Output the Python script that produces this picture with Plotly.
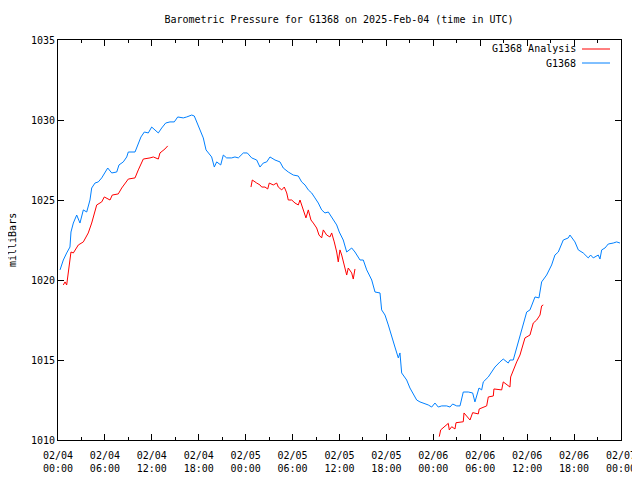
import pandas as pd
import plotly.graph_objects as go

START = pd.Timestamp("2025-02-04 00:00")

# G1368 observations: hours since 2025-02-04 00:00 UTC, pressure (mbar)
obs_hours = [0.26, 0.68, 1.11, 1.53, 1.66, 1.96, 2.39, 2.81, 3.24, 3.67, 4.09, 4.31, 4.73, 5.15, 5.59,
             6.01, 6.36, 6.87, 7.51, 7.80, 8.35, 8.79, 8.99, 9.85, 10.27, 10.61, 11.04, 11.55, 11.98,
             12.40, 12.83, 13.26, 13.77, 14.32, 14.87, 15.31, 16.02, 16.46, 17.10, 17.43, 17.74, 18.16,
             18.58, 18.93, 19.22, 19.65, 19.99, 20.29, 20.81, 21.14, 21.57, 22.21, 22.63, 23.06, 23.70,
             24.21, 24.77, 25.41, 25.83, 26.25, 26.69, 27.11, 27.75, 28.39, 28.81, 29.45, 30.09, 30.73,
             31.16, 31.59, 32.01, 32.44, 32.86, 33.29, 33.72, 34.14, 34.57, 35.00, 35.64, 35.97, 36.48,
             36.92, 37.56, 37.98, 38.62, 39.04, 39.48, 39.81, 40.12, 40.54, 41.18, 41.39, 41.82, 42.24,
             42.67, 43.09, 43.52, 43.73, 43.95, 44.59, 45.01, 45.65, 45.87, 46.29, 46.71, 47.35, 47.79,
             48.21, 48.63, 49.07, 49.71, 50.13, 50.47, 50.99, 51.41, 51.83, 52.47, 53.03, 53.32, 53.84,
             54.18, 54.39, 55.03, 55.46, 55.88, 56.52, 56.94, 57.58, 57.80, 58.22, 58.66, 59.08, 59.50,
             59.94, 60.36, 60.78, 61.00, 61.51, 61.85, 62.49, 63.13, 63.55, 63.98, 64.62, 65.26, 65.47,
             66.11, 66.54, 67.17, 67.81, 68.12, 68.45, 69.09, 69.31, 69.53, 69.95, 70.37, 71.01, 71.44,
             71.87]
obs_mbar = [1020.63, 1021.25, 1021.69, 1022.06, 1023.00, 1023.56, 1024.06, 1023.56, 1024.38, 1024.25,
            1025.00, 1025.75, 1026.06, 1026.13, 1026.38, 1026.69, 1027.00, 1026.69, 1026.75, 1027.19,
            1027.38, 1027.69, 1028.00, 1028.00, 1028.56, 1028.94, 1029.25, 1029.19, 1029.56, 1029.38,
            1029.19, 1029.50, 1029.81, 1029.88, 1029.88, 1030.19, 1030.13, 1030.19, 1030.31, 1030.25,
            1029.88, 1029.38, 1028.88, 1028.13, 1027.94, 1027.69, 1027.06, 1027.38, 1027.19, 1027.81,
            1027.63, 1027.63, 1027.69, 1027.63, 1027.94, 1027.94, 1027.63, 1027.50, 1027.06, 1027.31,
            1027.38, 1027.69, 1027.50, 1027.38, 1027.00, 1026.75, 1026.56, 1026.50, 1026.13, 1025.94,
            1025.63, 1025.44, 1025.13, 1024.81, 1024.38, 1024.19, 1024.25, 1023.94, 1023.44, 1023.00,
            1022.50, 1021.75, 1022.00, 1021.75, 1021.25, 1021.25, 1020.63, 1020.31, 1020.00, 1019.25,
            1019.19, 1018.13, 1017.81, 1017.19, 1016.56, 1015.81, 1015.13, 1015.44, 1014.19, 1013.75,
            1013.25, 1012.69, 1012.50, 1012.38, 1012.31, 1012.19, 1012.06, 1012.31, 1012.06, 1012.13,
            1012.13, 1012.06, 1012.25, 1012.13, 1012.13, 1013.00, 1013.00, 1012.94, 1012.38, 1013.25,
            1013.13, 1013.63, 1013.94, 1014.25, 1014.56, 1014.88, 1015.06, 1014.81, 1015.00, 1015.00,
            1015.81, 1016.56, 1017.19, 1018.00, 1018.13, 1018.63, 1018.94, 1018.88, 1019.88, 1020.31,
            1020.94, 1021.56, 1021.75, 1022.50, 1022.63, 1022.81, 1022.38, 1021.88, 1021.69, 1021.38,
            1021.56, 1021.38, 1021.56, 1021.31, 1021.88, 1022.00, 1022.25, 1022.31, 1022.38, 1022.31]

# G1368 Analysis: three separate segments (None = gap)
ana_hours = [0.68, 0.90, 1.11, 1.32, 1.66, 1.96, 2.60, 3.24, 3.87, 4.31, 4.73, 4.95, 5.59, 5.92, 6.65,
             6.94, 7.71, 8.15, 8.99, 9.85, 10.27, 10.91, 11.77, 12.19, 12.83, 13.04, 13.68, 14.03,
             None,
             24.68, 24.85, 25.41, 25.83, 26.05, 26.47, 26.82, 27.02, 27.53, 27.97, 28.17, 28.61, 28.94,
             29.25, 29.45, 29.89, 30.31, 30.73, 30.95, 31.37, 31.71, 32.01, 32.35, 32.65, 33.08, 33.38,
             33.72, 33.93, 34.36, 34.78, 35.00, 35.33, 35.64, 35.84, 36.06, 36.28, 36.61, 36.92, 37.12,
             37.56, 37.76, 37.98,
             None,
             48.76, 48.94, 49.91, 50.04, 50.35, 50.77, 50.90, 51.83, 51.92, 52.69, 53.03, 53.75, 53.87,
             54.82, 55.03, 55.67, 55.75, 56.74, 56.94, 57.80, 57.89, 58.22, 58.66, 59.08, 59.72, 60.36,
             60.78, 61.22, 61.64, 61.85, 62.06]
ana_mbar = [1019.69, 1019.88, 1019.69, 1020.63, 1021.75, 1021.69, 1022.19, 1022.38, 1022.94, 1023.56,
            1024.25, 1024.69, 1024.88, 1025.19, 1025.00, 1025.31, 1025.38, 1025.75, 1026.31, 1026.38,
            1026.88, 1027.56, 1027.63, 1027.69, 1027.56, 1027.94, 1028.19, 1028.38,
            None,
            1025.81, 1026.25, 1026.06, 1025.94, 1025.81, 1025.81, 1025.69, 1026.06, 1025.94, 1026.06,
            1025.81, 1025.63, 1025.81, 1025.44, 1025.00, 1025.00, 1024.81, 1024.69, 1025.00, 1024.38,
            1023.88, 1024.38, 1023.75, 1023.56, 1023.25, 1022.81, 1022.63, 1023.13, 1022.81, 1022.69,
            1022.94, 1022.38, 1021.75, 1021.13, 1021.88, 1021.56, 1020.81, 1020.31, 1020.75, 1020.44,
            1020.06, 1020.69,
            None,
            1010.21, 1010.63, 1011.04, 1010.63, 1010.83, 1010.69, 1011.08, 1011.14, 1011.69, 1011.25,
            1011.71, 1011.63, 1011.94, 1012.13, 1012.69, 1012.75, 1013.19, 1013.13, 1013.63, 1013.31,
            1013.94, 1014.38, 1014.88, 1015.31, 1016.38, 1016.56, 1017.31, 1017.50, 1017.81, 1018.38,
            1018.44]

tick_hours = [0, 6, 12, 18, 24, 30, 36, 42, 48, 54, 60, 66, 72]
tick_labels = ["02/04<br>00:00", "02/04<br>06:00", "02/04<br>12:00", "02/04<br>18:00",
               "02/05<br>00:00", "02/05<br>06:00", "02/05<br>12:00", "02/05<br>18:00",
               "02/06<br>00:00", "02/06<br>06:00", "02/06<br>12:00", "02/06<br>18:00",
               "02/07<br>00:00"]
y_ticks = [1010, 1015, 1020, 1025, 1030, 1035]

RED = "#ff0000"
BLUE = "#0080ff"
FONT = "DejaVu Sans Mono"

# the page body has an 8px margin: the figure is offset by 8px, so it is drawn 8px smaller
W, H = 632, 472


def to_time(hours):
    return [None if h is None else START + pd.Timedelta(hours=h) for h in hours]


fig = go.Figure()
fig.add_trace(go.Scatter(x=to_time(ana_hours), y=ana_mbar, mode="lines", name="G1368 Analysis",
                         line=dict(color=RED, width=1), connectgaps=False, showlegend=False))
fig.add_trace(go.Scatter(x=to_time(obs_hours), y=obs_mbar, mode="lines", name="G1368",
                         line=dict(color=BLUE, width=1), showlegend=False))

fig.update_layout(
    width=W, height=H,
    margin=dict(l=50, r=19, t=32, b=40, autoexpand=False),
    paper_bgcolor="white", plot_bgcolor="white",
    font=dict(family=FONT, size=10, color="black"),
    title=dict(text="Barometric Pressure for G1368 on 2025-Feb-04 (time in UTC)",
               x=331 / W, xref="container", y=1 - 11 / H, yref="container",
               xanchor="center", yanchor="middle", font=dict(family=FONT, size=10)),
)

fig.update_xaxes(
    range=[START, START + pd.Timedelta(hours=72)],
    tickvals=to_time(tick_hours), ticktext=tick_labels,
    showgrid=False, zeroline=False, automargin=False,
    showline=True, linecolor="black", linewidth=1, mirror="ticks",
    ticks="inside", ticklen=6, tickcolor="black", tickwidth=1,
    ticklabelstandoff=6, ticklabeloverflow="allow",
    minor=dict(ticks="inside", ticklen=3, tickcolor="black", dtick=3 * 3600 * 1000, showgrid=False),
    tickfont=dict(family=FONT, size=10),
)
fig.update_yaxes(
    range=[1010, 1035], tickvals=y_ticks,
    showgrid=False, zeroline=False, automargin=False,
    showline=True, linecolor="black", linewidth=1, mirror="ticks",
    ticks="inside", ticklen=6, tickcolor="black", tickwidth=1,
    tickfont=dict(family=FONT, size=10),
)

# y-axis title
fig.add_annotation(text="milliBars", textangle=-90, xref="paper", yref="paper",
                   x=-46 / 563, y=0.5, showarrow=False, xanchor="center", yanchor="middle",
                   font=dict(family=FONT, size=10))

# gnuplot-style legend (text right-aligned, sample line at right)
legend_items = [("G1368 Analysis", RED), ("G1368", BLUE)]
for i, (label, color) in enumerate(legend_items):
    yp = 1 - (9 + 14 * i) / 400
    fig.add_annotation(text=label, xref="paper", yref="paper", x=(578 - 58) / 563, y=yp,
                       showarrow=False, xanchor="right", yanchor="middle",
                       font=dict(family=FONT, size=10))
    fig.add_shape(type="line", xref="paper", yref="paper",
                  x0=(582 - 58) / 563, x1=(610 - 58) / 563, y0=yp, y1=yp,
                  line=dict(color=color, width=1))

fig.write_html("out.html")
